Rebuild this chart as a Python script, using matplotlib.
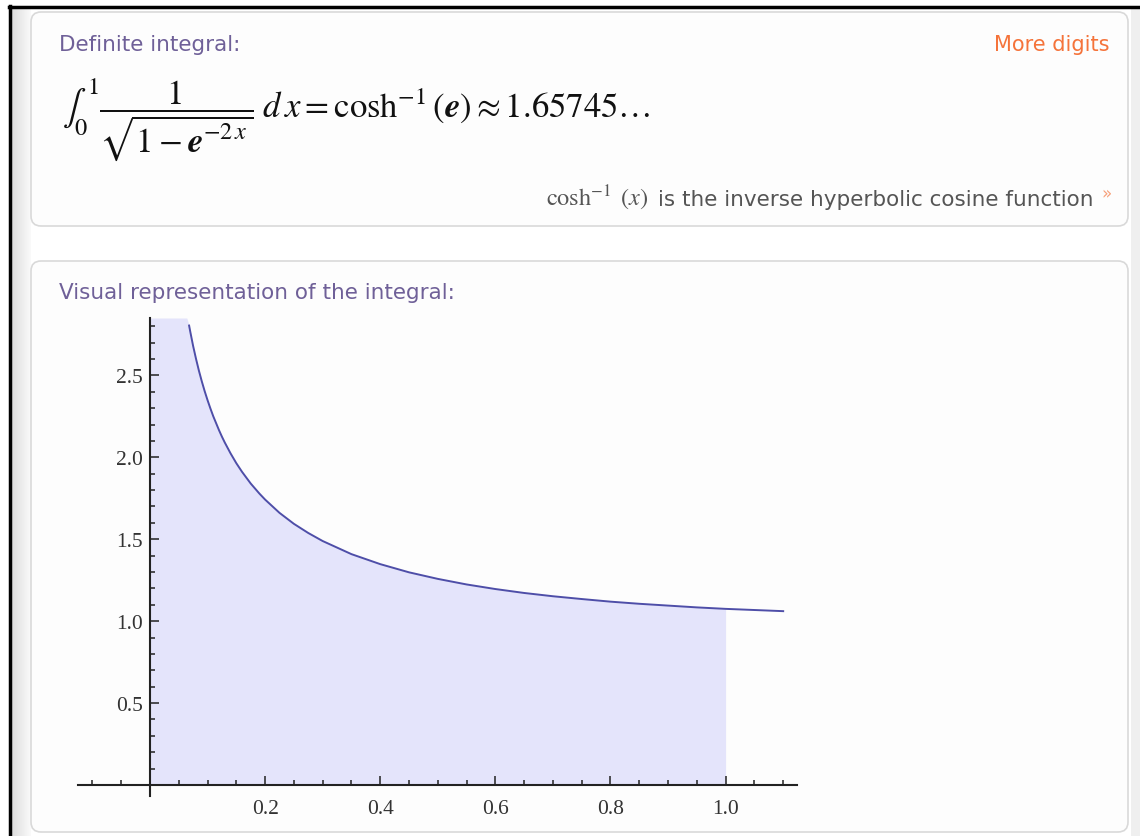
import numpy as np
import matplotlib
matplotlib.use("Agg")
from matplotlib import pyplot as plt
from matplotlib.patches import FancyBboxPatch, Rectangle
from matplotlib.ticker import FixedLocator

plt.rcParams['mathtext.fontset'] = 'stix'

# integrand 1/sqrt(1-e^(-2x)), sampled
x_pts = [0.068, 0.07, 0.075, 0.08, 0.085, 0.09, 0.095, 0.10, 0.105, 0.11,
         0.12, 0.125, 0.13, 0.14, 0.15, 0.16, 0.175, 0.19, 0.20, 0.225, 0.25,
         0.275, 0.30, 0.35, 0.40, 0.45, 0.50, 0.55, 0.60, 0.65, 0.70, 0.75,
         0.80, 0.85, 0.90, 0.95, 1.00, 1.05, 1.10]
y_pts = [2.804, 2.767, 2.679, 2.601, 2.529, 2.464, 2.404, 2.349, 2.298, 2.250,
         2.165, 2.126, 2.090, 2.024, 1.964, 1.911, 1.840, 1.779, 1.742, 1.661,
         1.594, 1.538, 1.489, 1.409, 1.348, 1.298, 1.258, 1.224, 1.196, 1.172,
         1.152, 1.135, 1.119, 1.106, 1.095, 1.084, 1.075, 1.068, 1.061]
x_lower, x_upper = 0.0, 1.0
y_top = 2.85

x_major = [0.2, 0.4, 0.6, 0.8, 1.0]
x_labels = ['0.2', '0.4', '0.6', '0.8', '1.0']
y_major = [0.5, 1.0, 1.5, 2.0, 2.5]
y_labels = ['0.5', '1.0', '1.5', '2.0', '2.5']

title1 = 'Definite integral:'
title2 = 'Visual representation of the integral:'
more = 'More digits'
formula = (r'$\int_0^1 \dfrac{1}{\sqrt{1-\mathbfit{e}^{-2\,x}}}\;d\,x = '
           r'\cosh^{-1}(\mathbfit{e}) \approx 1.65745\ldots$')
note_fn = r'$\cosh^{-1}\ (x)$'
note = 'is the inverse hyperbolic cosine function'

W, H = 1140, 837
fig = plt.figure(figsize=(W / 100, H / 100), dpi=100, facecolor='white')

# page background, borders and pods
bg = fig.add_axes([0, 0, 1, 1], zorder=0)
bg.set_xlim(0, W)
bg.set_ylim(H, 0)
bg.axis('off')
grad = np.linspace(0.86, 0.98, 50).reshape(1, -1)
bg.imshow(grad, cmap='gray', vmin=0, vmax=1, aspect='auto',
          extent=[11, 31, H, 9], zorder=0)
bg.add_patch(Rectangle((1131, 9), 9, H, color='#efefef', lw=0, zorder=0))
bg.plot([10, 10], [7, H], color='black', lw=2.5, zorder=3)
bg.plot([9, W], [8, 8], color='black', lw=2.5, zorder=3)
for (x0, y0, x1, y1) in [(31, 13, 1128, 227), (31, 262, 1128, 833)]:
    bg.add_patch(FancyBboxPatch((x0, y0), x1 - x0, y1 - y0,
                                boxstyle='round,pad=0,rounding_size=10',
                                fc='#fdfdfd', ec='#d9d9d9', lw=1.2, zorder=1))

purple = '#6f6098'
orange = '#f5733a'
bg.text(59, 45, title1, color=purple, fontsize=15.5, family='DejaVu Sans',
        va='center', ha='left')
bg.text(1110, 45, more, color=orange, fontsize=15, family='DejaVu Sans',
        va='center', ha='right')
bg.text(62, 120, formula, fontsize=25, va='center', ha='left', color='#111111')
bg.text(1093, 200, note, color='#555555', fontsize=15.5, family='DejaVu Sans',
        va='center', ha='right')
bg.text(649, 198, note_fn, color='#555555', fontsize=17.5, va='center',
        ha='right')
bg.text(1112, 194, '»', color='#f7a07a', fontsize=12, family='DejaVu Sans',
        va='center', ha='right')
bg.text(59, 293, title2, color=purple, fontsize=15.5, family='DejaVu Sans',
        va='center', ha='left')

# plot area
x0p, x1p, y0p, y1p = 78, 797, 319, 797
ax = fig.add_axes([x0p / W, (H - y1p) / H, (x1p - x0p) / W, (y1p - y0p) / H],
                  zorder=2)
ax.patch.set_alpha(0)
ax.set_xlim(-0.125, 1.124)
ax.set_ylim(-0.067, y_top)

fill_x = [x_lower, 0.064] + [v for v in x_pts if v <= x_upper]
fill_y = [y_top, y_top] + [y for v, y in zip(x_pts, y_pts) if v <= x_upper]
ax.fill_between(fill_x, 0, fill_y, color='#e4e4fb', lw=0)
ax.plot(x_pts, y_pts, color='#4e4ea8', lw=1.4)

for s in ['top', 'right']:
    ax.spines[s].set_visible(False)
ax.spines['bottom'].set_position(('data', 0))
ax.spines['left'].set_position(('data', 0))
for s in ['bottom', 'left']:
    ax.spines[s].set_linewidth(1.5)
    ax.spines[s].set_color('#222222')

ax.set_xticks(x_major)
ax.set_xticklabels(x_labels)
ax.set_yticks(y_major)
ax.set_yticklabels(y_labels)
x_minor = [round(-0.1 + 0.05 * i, 2) for i in range(25)]
x_minor = [v for v in x_minor if v != 0 and v not in x_major]
y_minor = [round(0.1 * i, 1) for i in range(1, 29)]
y_minor = [v for v in y_minor if v not in y_major]
ax.xaxis.set_minor_locator(FixedLocator(x_minor))
ax.yaxis.set_minor_locator(FixedLocator(y_minor))
ax.tick_params(which='both', direction='in', color='#222222', width=1.1)
ax.tick_params(which='major', length=6.5)
ax.tick_params(which='minor', length=3.6)
ax.tick_params(axis='x', which='major', pad=10)
ax.tick_params(axis='y', which='major', pad=5)
for lbl in ax.get_xticklabels() + ax.get_yticklabels():
    lbl.set_family('Liberation Serif')
    lbl.set_fontsize(15.5)
    lbl.set_color('#333333')

fig.savefig('out.png', dpi=100, facecolor='white')
